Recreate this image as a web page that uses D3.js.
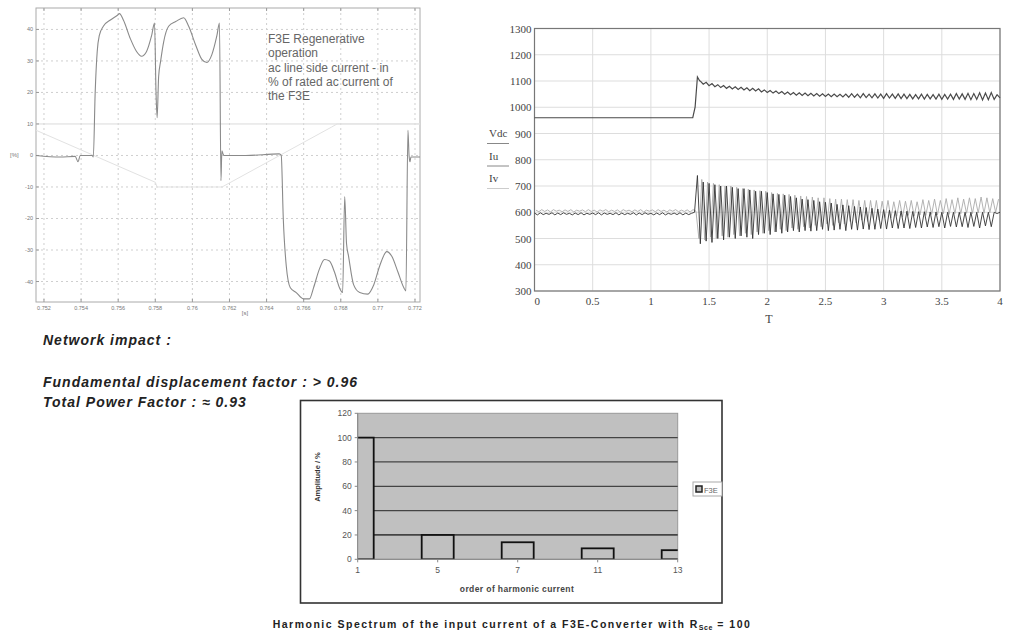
<!DOCTYPE html>
<html><head><meta charset="utf-8">
<script src="https://cdn.jsdelivr.net/npm/d3@7"></script>
<style>body{margin:0;background:#fff} svg{display:block}</style>
</head><body><svg id="c" width="1015" height="637"></svg>
<script>
// --- top left: ac line side current, regenerative operation ---
var curT = [0.75157,0.75287,0.75368,0.75384,0.75395,0.7546,0.75466,0.75476,0.75487,0.75498,0.7552,0.75558,0.75596,0.75607,0.75628,0.75666,0.75699,0.75726,0.75753,0.7578,0.75796,0.75804,0.7581,0.75818,0.75829,0.75845,0.75872,0.7591,0.75953,0.7598,0.76018,0.76051,0.76078,0.76105,0.76132,0.76146,0.76154,0.76159,0.76165,0.7617,0.76289,0.76468,0.76479,0.7649,0.76506,0.76528,0.7656,0.76598,0.76631,0.76653,0.76685,0.76712,0.76739,0.76766,0.76793,0.7681,0.76821,0.76831,0.76842,0.76869,0.76902,0.76945,0.76978,0.7701,0.77048,0.77075,0.77108,0.7714,0.77151,0.77162,0.77168,0.77173,0.77178,0.77227];
var curV = [0,-0.5,-0.3,-2,0,0,-0.5,20,33,38,41,43,44.5,45,43,37,33,31.5,33,38,42,20,12,25,30,36,41,42.5,43.7,41,35,30.5,29.5,32,38,42,-8,1.5,0.5,0,0,0.5,0,-20,-35,-42,-43.5,-45.5,-45.5,-42,-36,-33,-33.5,-37,-42,-43.5,-13,-28,-32,-41,-43.5,-44,-41,-35,-30.5,-32,-37,-42,-43,8,0,-2,-0.5,-0.5];
var voltT = [0.75157,0.7580,0.7581,0.7616,0.7675,0.7678,0.77227];
var voltV = [8,-8.5,-10,-10,9,10,10];
var leftXTicks = [0.752,0.754,0.756,0.758,0.76,0.762,0.764,0.766,0.768,0.77,0.772];
var leftYTicks = [-40,-30,-20,-10,0,10,20,30,40];
var noteLines = ["F3E Regenerative","operation","ac line side current - in","% of rated ac current of","the F3E"];

// --- top right: Vdc, Iu, Iv over T ---
var vdcT = [0,1.36,1.38,1.40,1.42];
var vdcV = [960,960,1000,1115,1100];
var vdcRipple = [1100,1088,1095,1082,1090,1078,1086,1075,1083,1072,
  1080,1070,1078,1068,1076,1066,1074,1063,1072,1062,
  1070,1058,1066,1056,1064,1054,1062,1052,1060,1050,
  1058,1048,1056,1046,1055,1045,1054,1044,1053,1043,
  1052,1042,1051,1041,1050,1040,1050,1040,1049,1039,
  1050,1038,1052,1038,1050,1036,1052,1037,1050,1036,
  1051,1035,1050,1034,1052,1035,1050,1034,1051,1033,
  1050,1033,1049,1032,1048,1032,1050,1031,1049,1032,
  1048,1031,1050,1030,1049,1031,1050,1030,1052,1031,
  1051,1030,1053,1029,1052,1030,1055,1028,1054,1029,
  1056,1030,1048,1036];
var iuPre = [597,590,598,591,596,592,598,590,597,591,598,592,596,590,597,591,598,590,596,592,
  597,591,598,590,597,592,596,591,598,590,597,591,596,592,598,590,597,591,598,592,
  596,590,597,591,598,590,596,592,597,591,598,590,597,591,596,600];
var ivPre = [608,602,610,603,609,601,610,604,608,602,609,603,610,601,608,604,609,602,610,603,
  608,601,609,604,610,602,608,603,609,601,610,604,608,602,609,603,610,601,608,604,
  609,602,610,603,608,601,609,604,610,602,608,603,609,601,610,604];
var iuPost = [740,480,715,490,710,485,705,500,700,495,
  700,505,695,500,690,510,690,505,685,500,
  680,515,680,520,675,515,670,525,668,520,
  665,525,660,530,655,525,650,530,648,528,
  645,530,640,535,638,530,635,532,630,535,
  628,530,625,535,622,532,620,536,618,534,
  615,535,612,538,610,536,608,540,606,538,
  605,540,604,538,603,542,602,540,602,544,
  601,542,601,545,600,540,600,546,600,544,
  600,545,600,542,600,546,600,540,600,548,
  600,545,600,595,600];
var ivPost = [500,725,495,715,505,710,500,705,510,700,
  505,700,515,695,510,690,520,688,515,685,
  525,682,520,680,530,675,525,672,535,670,
  530,668,540,665,535,662,545,660,540,658,
  550,655,545,655,555,652,550,650,560,650,
  555,648,565,648,560,645,570,645,565,645,
  575,645,570,642,580,645,578,640,585,645,
  582,642,588,645,585,640,590,648,588,645,
  592,650,590,645,594,652,592,648,595,655,
  594,650,596,655,595,652,597,658,596,655,
  598,652,600,650];
var rightXTicks = [0,0.5,1,1.5,2,2.5,3,3.5,4];
var rightYTicks = [300,400,500,600,700,800,900,1000,1100,1200,1300];
var seriesNames = ["Vdc","Iu","Iv"];

// --- bottom: harmonic spectrum ---
var harmonics = ["1","5","7","11","13"];
var amplitude = [100,20,14,9,7.5];
var ampTicks = [0,20,40,60,80,100,120];

var svg = d3.select("#c");

// ================= top left =================
(function(){
  var L = 36, R = 420, T = 8, B = 302;
  var x = d3.scaleLinear().domain([0.75157,0.77227]).range([L,R]);
  var y = d3.scaleLinear().domain([-46.5,46.8]).range([B,T]);
  var g = svg.append("g");
  g.append("rect").attr("x",L).attr("y",T).attr("width",R-L).attr("height",B-T)
    .attr("fill","#fff").attr("stroke","#aaa");
  g.selectAll(".vg").data(leftXTicks).enter().append("line")
    .attr("x1",d=>x(d)).attr("x2",d=>x(d)).attr("y1",T).attr("y2",B)
    .attr("stroke","#cfcfcf").attr("stroke-dasharray","2,3");
  g.selectAll(".hg").data(leftYTicks).enter().append("line")
    .attr("x1",L).attr("x2",R).attr("y1",d=>y(d)).attr("y2",d=>y(d))
    .attr("stroke",d=>d===10?"#dadada":"#cfcfcf")
    .attr("stroke-dasharray",d=>d===10?null:"2,3");
  // tick marks
  g.selectAll(".xt").data(leftXTicks).enter().append("path")
    .attr("d",d=>"M"+x(d)+","+B+"v-3M"+x(d)+","+T+"v3").attr("stroke","#999");
  g.selectAll(".yt").data(leftYTicks).enter().append("path")
    .attr("d",d=>"M"+L+","+y(d)+"h3").attr("stroke","#999");
  g.selectAll(".xl").data(leftXTicks).enter().append("text")
    .attr("x",d=>x(d)).attr("y",B+8).attr("text-anchor","middle")
    .attr("font-family","Liberation Sans, Arial").attr("font-size",5.5).attr("fill","#777")
    .text(d=>d3.format(".3~f")(d));
  g.selectAll(".yl").data(leftYTicks).enter().append("text")
    .attr("x",L-3).attr("y",d=>y(d)+2).attr("text-anchor","end")
    .attr("font-family","Liberation Sans, Arial").attr("font-size",5.5).attr("fill","#777")
    .text(d=>d);
  g.append("text").attr("x",10).attr("y",157).attr("font-family","Liberation Sans, Arial")
    .attr("font-size",6).attr("fill","#777").text("[%]");
  g.append("text").attr("x",245).attr("y",315).attr("text-anchor","middle").attr("font-family","Liberation Sans, Arial")
    .attr("font-size",6).attr("fill","#777").text("[s]");
  var line = d3.line().x(d=>x(d[0])).y(d=>y(d[1])).curve(d3.curveMonotoneX);
  g.append("path").datum(d3.zip(voltT,voltV)).attr("d",d3.line().x(d=>x(d[0])).y(d=>y(d[1])))
    .attr("fill","none").attr("stroke","#e2e2e2").attr("stroke-width",1);
  g.append("path").datum(d3.zip(curT,curV)).attr("d",line)
    .attr("fill","none").attr("stroke","#8a8a8a").attr("stroke-width",1.1);
  g.append("text").attr("font-family","Liberation Sans, Arial").attr("font-size",12).attr("fill","#666")
    .selectAll("tspan").data(noteLines).enter().append("tspan")
    .attr("x",268).attr("y",(d,i)=>43+i*14.3).text(d=>d);
})();

// ================= top right =================
(function(){
  var L = 534.5, R = 1000, T = 28.5, B = 291;
  var x = d3.scaleLinear().domain([0,4]).range([L,R]);
  var y = d3.scaleLinear().domain([300,1300]).range([B,T]);
  var g = svg.append("g");
  g.selectAll(".vg").data(rightXTicks).enter().append("line")
    .attr("x1",d=>x(d)).attr("x2",d=>x(d)).attr("y1",T).attr("y2",B).attr("stroke","#ddd");
  g.selectAll(".hg").data(rightYTicks).enter().append("line")
    .attr("x1",L).attr("x2",R).attr("y1",d=>y(d)).attr("y2",d=>y(d)).attr("stroke","#ddd");
  g.append("rect").attr("x",L).attr("y",T).attr("width",R-L).attr("height",B-T)
    .attr("fill","none").attr("stroke","#777").attr("stroke-width",1.2);
  g.selectAll(".xl").data(rightXTicks).enter().append("text")
    .attr("x",d=>x(d)).attr("y",B+14).attr("text-anchor",d=>d===0?"start":"middle")
    .attr("font-family","Liberation Serif, Times New Roman").attr("font-size",11).attr("fill","#444")
    .text(d=>d);
  g.selectAll(".yl").data(rightYTicks).enter().append("text")
    .attr("x",L-3).attr("y",d=>y(d)+4).attr("text-anchor","end")
    .attr("font-family","Liberation Serif, Times New Roman").attr("font-size",11).attr("fill","#444")
    .text(d=>d);
  g.append("text").attr("x",769).attr("y",323).attr("text-anchor","middle")
    .attr("font-family","Liberation Serif, Times New Roman").attr("font-size",12).attr("fill","#444").text("T");
  seriesNames.forEach(function(n,i){
    g.append("text").attr("x",489).attr("y",137+i*22.5)
      .attr("font-family","Liberation Serif, Times New Roman").attr("font-size",11).attr("fill","#444").text(n);
    g.append("line").attr("x1",487).attr("x2",509).attr("y1",143.5+i*22.5).attr("y2",143.5+i*22.5)
      .attr("stroke",i===2?"#ccc":"#888");
  });
  var line = d3.line().x(d=>x(d[0])).y(d=>y(d[1]));
  var ivPts = ivPre.map((v,i)=>[0.0125+i*0.025,v]).concat(ivPost.map((v,i)=>[1.4125+i*0.025,v]));
  var iuPts = iuPre.map((v,i)=>[i*0.025,v]).concat(iuPost.map((v,i)=>[1.40+i*0.025,v]));
  var vdcPts = d3.zip(vdcT,vdcV).concat(vdcRipple.map((v,i)=>[1.425+i*0.025,v]));
  g.append("path").datum(ivPts).attr("d",line).attr("fill","none").attr("stroke","#aaa").attr("stroke-width",0.9);
  g.append("path").datum(iuPts).attr("d",line).attr("fill","none").attr("stroke","#333").attr("stroke-width",0.9);
  g.append("path").datum(vdcPts).attr("d",line).attr("fill","none").attr("stroke","#4a4a4a").attr("stroke-width",1.2);
})();

// ================= notes =================
var notes = [["Network impact :",345],["Fundamental displacement factor : > 0.96",387],["Total Power Factor : \u2248 0.93",407]];
svg.selectAll(".note").data(notes).enter().append("text")
  .attr("x",43).attr("y",d=>d[1]).attr("font-family","Liberation Sans, Arial")
  .attr("font-size",14).attr("letter-spacing",1).attr("font-weight","bold").attr("font-style","italic").attr("fill","#222")
  .text(d=>d[0]);

// ================= bottom bar chart =================
(function(){
  var L = 357.7, R = 677.7, T = 413.3, B = 559.3;
  var g = svg.append("g");
  g.append("rect").attr("x",300.5).attr("y",400.5).attr("width",421.5).attr("height",202.5)
    .attr("fill","#fff").attr("stroke","#333").attr("stroke-width",1.6);
  var x = d3.scalePoint().domain(harmonics).range([L,R]);
  var y = d3.scaleLinear().domain([0,120]).range([B,T]);
  g.append("rect").attr("x",L).attr("y",T).attr("width",R-L).attr("height",B-T)
    .attr("fill","#c0c0c0").attr("stroke","#999");
  g.selectAll(".hg").data(ampTicks.filter(d=>d>0&&d<120)).enter().append("line")
    .attr("x1",L).attr("x2",R).attr("y1",d=>y(d)).attr("y2",d=>y(d))
    .attr("stroke","#444").attr("stroke-width",d=>d===20?1.8:1.2);
  svg.append("clipPath").attr("id","pc").append("rect").attr("x",L).attr("y",T).attr("width",R-L).attr("height",B-T);
  var bw = 32;
  g.append("g").attr("clip-path","url(#pc)").selectAll("rect").data(amplitude).enter().append("rect")
    .attr("x",(d,i)=>x(harmonics[i])-bw/2).attr("y",d=>y(d)).attr("width",bw).attr("height",d=>B-y(d))
    .attr("fill","#c0c0c0").attr("stroke","#111").attr("stroke-width",1.8);
  g.append("line").attr("x1",L).attr("x2",R).attr("y1",B).attr("y2",B).attr("stroke","#888");
  g.append("line").attr("x1",L).attr("x2",L).attr("y1",T).attr("y2",B).attr("stroke","#888");
  g.selectAll(".yt").data(ampTicks).enter().append("line")
    .attr("x1",L-3).attr("x2",L).attr("y1",d=>y(d)).attr("y2",d=>y(d)).attr("stroke","#888");
  g.selectAll(".yl").data(ampTicks).enter().append("text")
    .attr("x",L-6).attr("y",d=>y(d)+3).attr("text-anchor","end")
    .attr("font-family","Liberation Sans, Arial").attr("font-size",8.5).attr("fill","#555").text(d=>d);
  g.selectAll(".xt").data(harmonics).enter().append("line")
    .attr("x1",d=>x(d)).attr("x2",d=>x(d)).attr("y1",B).attr("y2",B+3).attr("stroke","#888");
  g.selectAll(".xl").data(harmonics).enter().append("text")
    .attr("x",d=>x(d)).attr("y",B+14).attr("text-anchor","middle")
    .attr("font-family","Liberation Sans, Arial").attr("font-size",8.5).attr("fill","#555").text(d=>d);
  g.append("text").attr("x",517).attr("y",592).attr("text-anchor","middle")
    .attr("font-family","Liberation Sans, Arial").attr("font-size",8.5).attr("letter-spacing",0.4).attr("font-weight","bold").attr("fill","#444")
    .text("order of harmonic current");
  g.append("text").attr("transform","translate(320,477) rotate(-90)").attr("text-anchor","middle")
    .attr("font-family","Liberation Sans, Arial").attr("font-size",7.5).attr("font-weight","bold").attr("fill","#333")
    .text("Amplitude / %");
  // legend
  g.append("rect").attr("x",693).attr("y",482).attr("width",29).attr("height",14)
    .attr("fill","#fff").attr("stroke","#aaa");
  g.append("rect").attr("x",696).attr("y",486).attr("width",6).attr("height",6)
    .attr("fill","#c0c0c0").attr("stroke","#222").attr("stroke-width",1.5);
  g.append("text").attr("x",704).attr("y",492.5).attr("font-family","Liberation Sans, Arial")
    .attr("font-size",7.5).attr("fill","#666").text("F3E");
  // caption
  var cap = svg.append("text").attr("x",512).attr("y",628).attr("text-anchor","middle")
    .attr("font-family","Liberation Sans, Arial").attr("font-size",10.5).attr("letter-spacing",1.5).attr("font-weight","bold").attr("fill","#222");
  cap.append("tspan").text("Harmonic Spectrum of the input current of a F3E-Converter with R");
  cap.append("tspan").attr("font-size",7).attr("letter-spacing",0.5).attr("dy",2).text("Sce");
  cap.append("tspan").attr("dy",-2).text(" = 100");
})();
</script></body></html>
